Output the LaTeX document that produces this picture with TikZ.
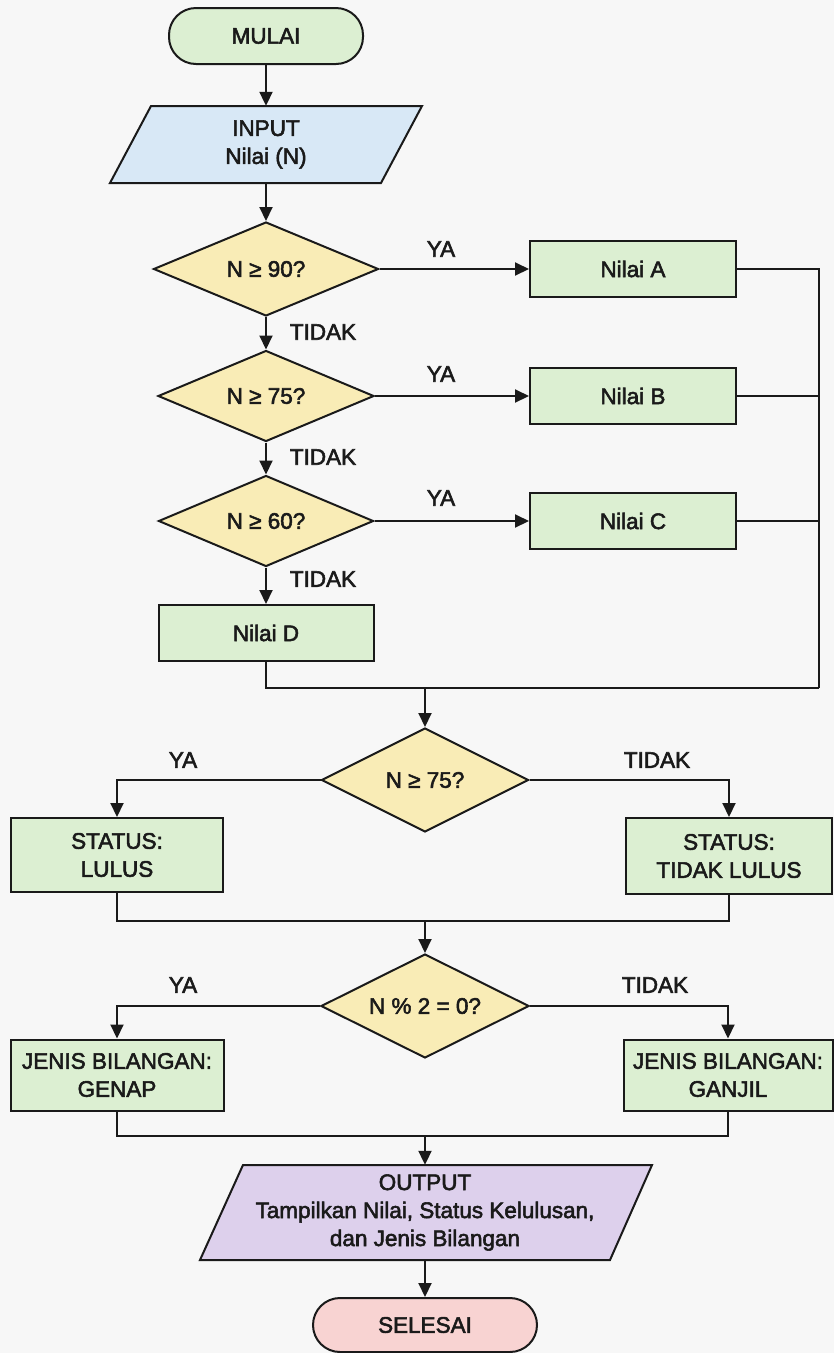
\documentclass[tikz,border=0pt]{standalone}
\usepackage{fontspec}
\setmainfont{Liberation Sans}[FakeBold=2.4]
\usetikzlibrary{shapes.geometric,arrows.meta}
\definecolor{bgc}{HTML}{F7F7F7}
\definecolor{lc}{HTML}{1A1A1A}
\definecolor{gfill}{HTML}{DCEFD2}
\definecolor{yfill}{HTML}{F9ECB6}
\definecolor{bfill}{HTML}{D8E8F6}
\definecolor{pfill}{HTML}{DDD0EC}
\definecolor{rfill}{HTML}{F8D3D2}
\newcommand{\dtext}[1]{\makebox[0pt]{#1}}
\begin{document}
\begin{tikzpicture}[x=1pt,y=-1pt,
  font=\fontsize{22.5}{28}\selectfont,
  base/.style={draw=lc, line width=2pt, align=center, inner sep=0pt, text=lc},
  proc/.style={base, rectangle, fill=gfill},
  term/.style={base, rectangle, rounded corners=27pt, minimum height=54pt},
  dec/.style={base, diamond, fill=yfill},
  iotext/.style={align=center, inner sep=0pt, text=lc},
  line/.style={draw=lc, line width=2pt},
  arr/.style={line, -{Triangle[length=14pt,width=13pt]}},
  lab/.style={text=lc, inner sep=0pt}]
\useasboundingbox (0,0) rectangle (834,1353);
\fill[bgc] (0,0) rectangle (834,1353);

% column 1
\node[term, fill=gfill, minimum width=194pt, minimum height=56pt] (start) at (266,36) {MULAI};
\fill[bfill] (151,106) -- (422,106) -- (381,183) -- (110,183) -- cycle;
\draw[line] (151,106) -- (422,106) -- (381,183) -- (110,183) -- cycle;
\node[iotext, minimum width=200pt, minimum height=77pt] (in) at (266,144.5) {INPUT\\Nilai (N)};

\node[dec, minimum width=225pt, minimum height=94pt] (d1) at (266,269) {\dtext{N ≥ 90?}};
\node[dec, minimum width=216pt, minimum height=91pt] (d2) at (266,396) {\dtext{N ≥ 75?}};
\node[dec, minimum width=215pt, minimum height=91pt] (d3) at (266,521) {\dtext{N ≥ 60?}};
\node[proc, minimum width=215pt, minimum height=56pt] (nd) at (266,633) {Nilai D};

\node[proc, minimum width=206pt, minimum height=56pt] (na) at (633,269) {Nilai A};
\node[proc, minimum width=206pt, minimum height=56pt] (nb) at (633,396) {Nilai B};
\node[proc, minimum width=206pt, minimum height=56pt] (nc) at (633,521) {Nilai C};

\coordinate (m1) at (819,688);

\draw[arr] (start.south) -- (in.north);
\draw[arr] (in.south) -- (d1.north);
\draw[arr] (d1.south) -- (d2.north);
\draw[arr] (d2.south) -- (d3.north);
\draw[arr] (d3.south) -- (nd.north);
\draw[arr] (d1.east) -- (na.west);
\draw[arr] (d2.east) -- (nb.west);
\draw[arr] (d3.east) -- (nc.west);

\node[lab] (ya1) at (441,249) {YA};
\node[lab] (ya2) at (441,374) {YA};
\node[lab] (ya3) at (441,498) {YA};
\node[lab] (td1) at (323,332) {TIDAK};
\node[lab] (td2) at (323,457) {TIDAK};
\node[lab] (td3) at (323,579) {TIDAK};

\draw[line] (na.east) -| (m1);
\draw[line] (nb.east) -- (nb.east -| m1);
\draw[line] (nc.east) -- (nc.east -| m1);
\draw[line] (nd.south) |- (m1);

% second decision
\node[dec, minimum width=207pt, minimum height=104pt] (d4) at (425,780) {\dtext{N ≥ 75?}};
\draw[arr] (d4.north |- m1) -- (d4.north);
\node[proc, minimum width=212pt, minimum height=74pt] (lulus) at (117,855) {STATUS:\\LULUS};
\node[proc, minimum width=206pt, minimum height=76pt] (tlulus) at (729,856) {STATUS:\\TIDAK LULUS};
\draw[arr] (d4.west) -| (lulus.north);
\draw[arr] (d4.east) -| (tlulus.north);
\node[lab] (ya4) at (183,760) {YA};
\node[lab] (td4) at (657,760) {TIDAK};
\coordinate (m2) at (425,921);
\draw[line] (lulus.south) |- (m2) -| (tlulus.south);

% third decision
\node[dec, minimum width=208pt, minimum height=104pt] (d5) at (425,1006) {\dtext{N \% 2 = 0?}};
\draw[arr] (m2) -- (d5.north);
\node[proc, minimum width=213pt, minimum height=71pt] (genap) at (117,1075) {JENIS BILANGAN:\\GENAP};
\node[proc, minimum width=209pt, minimum height=71pt] (ganjil) at (728,1075) {JENIS BILANGAN:\\GANJIL};
\draw[arr] (d5.west) -| (genap.north);
\draw[arr] (d5.east) -| (ganjil.north);
\node[lab] (ya5) at (183,985) {YA};
\node[lab] (td5) at (655,985) {TIDAK};
\coordinate (m3) at (425,1136);
\draw[line] (genap.south) |- (m3) -| (ganjil.south);

% output
\fill[pfill] (243,1165) -- (652,1165) -- (610,1260) -- (200,1260) -- cycle;
\draw[line] (243,1165) -- (652,1165) -- (610,1260) -- (200,1260) -- cycle;
\node[iotext, minimum width=360pt, minimum height=95pt] (out) at (425,1212.5) {OUTPUT\\Tampilkan Nilai, Status Kelulusan,\\dan Jenis Bilangan};
\draw[arr] (m3) -- (out.north);

\node[term, fill=rfill, minimum width=224pt, minimum height=54pt] (stop) at (425,1325) {SELESAI};
\draw[arr] (out.south) -- (stop.north);
\end{tikzpicture}
\end{document}
